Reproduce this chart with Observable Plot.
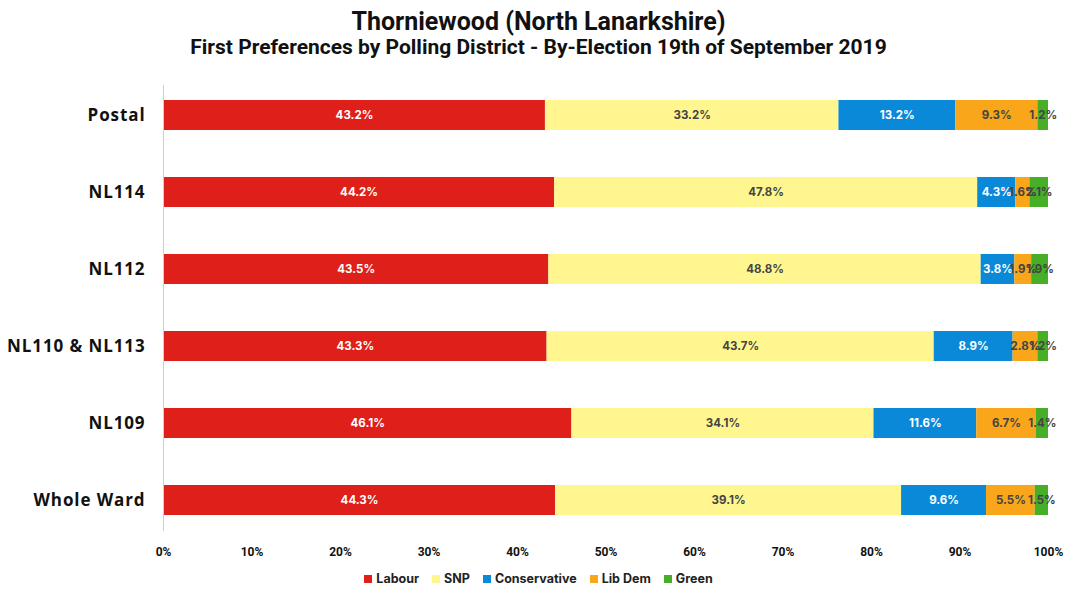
<!DOCTYPE html>
<html>
<head>
<meta charset="utf-8">
<script src="https://cdn.jsdelivr.net/npm/d3@7"></script>
<script src="https://cdn.jsdelivr.net/npm/@observablehq/plot@0.6"></script>
<style>
  html, body { margin: 0; padding: 0; background: #fff; }
  #wrap { width: 1077px; height: 600px; position: relative; overflow: hidden; }
  .title { position: absolute; left: 0; width: 1077px; text-align: center; color: #111;
    font-family: "Roboto", sans-serif; font-weight: 700; }
  #t1 { top: 7px; font-size: 25px; }
  #t2 { top: 35px; font-size: 21px; }
  #chart { position: absolute; left: 0; top: 65px; }
  #chart g[aria-label="y-axis tick label"] text { letter-spacing: 0.9px; }
  #legend { position: absolute; top: 571px; left: 0; width: 1077px; display: flex; justify-content: center; gap: 13px;
    font-family: "Inter", "Open Sans", sans-serif; font-weight: 700; font-size: 12.5px; color: #222; }
  #legend span.item { display: flex; align-items: center; gap: 4px; }
  #legend span.sw { width: 8px; height: 8px; display: inline-block; }
</style>
</head>
<body>
<div id="wrap">
  <div class="title" id="t1">Thorniewood (North Lanarkshire)</div>
  <div class="title" id="t2">First Preferences by Polling District - By-Election 19th of September 2019</div>
  <div id="chart"></div>
  <div id="legend"></div>
</div>
<script>
const districts = ["Postal", "NL114", "NL112", "NL110 & NL113", "NL109", "Whole Ward"];
const parties = ["Labour", "SNP", "Conservative", "Lib Dem", "Green"];
const colors = ["#DE1F1A", "#FFF68F", "#0A89D9", "#F9A61A", "#46AE27"];
const labour       = [43.2, 44.2, 43.5, 43.3, 46.1, 44.3];
const snp          = [33.2, 47.8, 48.8, 43.7, 34.1, 39.1];
const conservative = [13.2, 4.3, 3.8, 8.9, 11.6, 9.6];
const libdem       = [9.3, 1.6, 1.9, 2.8, 6.7, 5.5];
const green        = [1.2, 2.1, 1.9, 1.2, 1.4, 1.5];
const xTicks = [0, 0.1, 0.2, 0.3, 0.4, 0.5, 0.6, 0.7, 0.8, 0.9, 1];

const series = [labour, snp, conservative, libdem, green];
const data = [];
districts.forEach((d, i) => {
  parties.forEach((p, j) => data.push({district: d, party: p, value: series[j][i]}));
});
const whiteText = new Set(["Labour", "Conservative"]);
const stackOpts = {x: "value", y: "district", z: "party", offset: "normalize"};
const label = d => d.value.toFixed(1) + "%";

const plot = Plot.plot({
  width: 1077,
  height: 500,
  marginLeft: 163,
  marginRight: 29,
  marginTop: 20,
  marginBottom: 34,
  style: {fontFamily: "'Inter', sans-serif", background: "#fff"},
  x: {domain: [0, 1], label: null},
  y: {domain: districts, label: null, paddingInner: 0.61, paddingOuter: 0.2},
  color: {domain: parties, range: colors},
  marks: [
    Plot.barX(data, Plot.stackX({...stackOpts, fill: "party"})),
    Plot.ruleX([0], {stroke: "#cfcfcf", strokeWidth: 1}),
    Plot.text(data, Plot.stackX({...stackOpts,
      text: d => whiteText.has(d.party) ? label(d) : "", fill: "white", fontWeight: 700, fontSize: 11.5})),
    Plot.text(data, Plot.stackX({...stackOpts,
      text: d => whiteText.has(d.party) ? "" : label(d), fill: "#444", fontWeight: 700, fontSize: 11.5})),
    Plot.axisX({ticks: xTicks, tickSize: 0, tickPadding: 16, tickFormat: d => Math.round(d * 100) + "%",
      fontFamily: "'Roboto', sans-serif", fontWeight: 700, fontSize: 12, fill: "#111", label: null}),
    Plot.axisY({tickSize: 0, tickPadding: 18, fontFamily: "'Open Sans', sans-serif", fontWeight: 700, fontSize: 17, fill: "#111", label: null})
  ]
});
document.getElementById("chart").appendChild(plot);

const legend = document.getElementById("legend");
parties.forEach((p, i) => {
  const item = document.createElement("span");
  item.className = "item";
  const sw = document.createElement("span");
  sw.className = "sw";
  sw.style.background = colors[i];
  item.appendChild(sw);
  item.appendChild(document.createTextNode(p));
  legend.appendChild(item);
});
</script>
</body>
</html>
